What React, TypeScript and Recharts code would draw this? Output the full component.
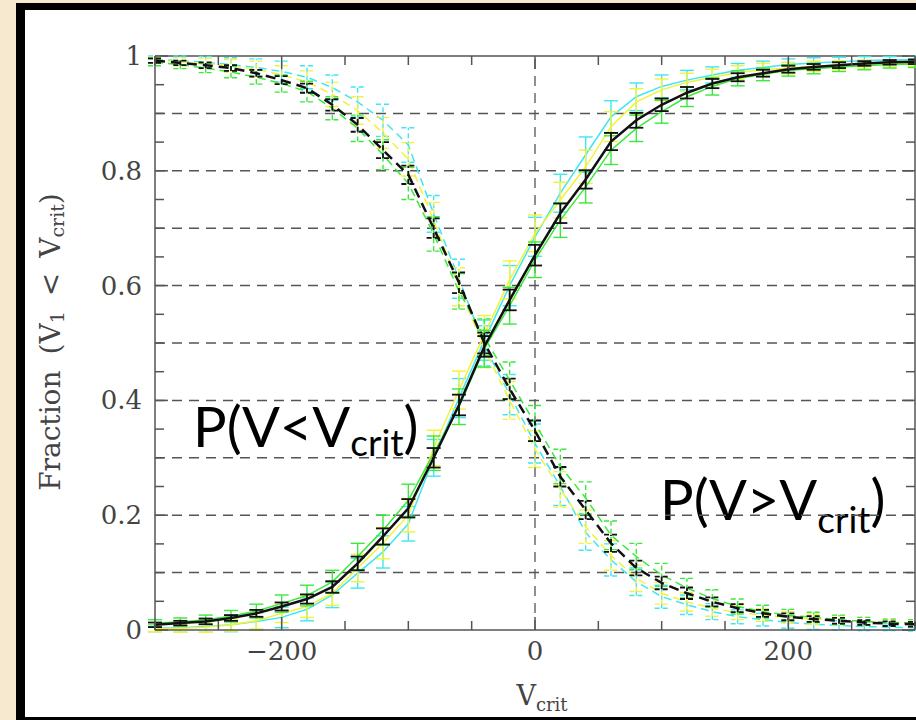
import React from 'react';
import { LineChart, Line, XAxis, YAxis, ReferenceLine, ErrorBar } from 'recharts';

// V_crit sample points
const vcrit = [-300, -280, -260, -240, -220, -200, -180, -160, -140, -120, -100, -80, -60, -40, -20, 0, 20, 40, 60, 80, 100, 120, 140, 160, 180, 200, 220, 240, 260, 280, 300];

// P(V < Vcrit), solid curves
const riseBlack = [0.009, 0.012, 0.015, 0.021, 0.029, 0.041, 0.054, 0.075, 0.116, 0.163, 0.212, 0.3, 0.392, 0.494, 0.575, 0.653, 0.726, 0.785, 0.851, 0.888, 0.915, 0.936, 0.952, 0.963, 0.97, 0.977, 0.981, 0.984, 0.987, 0.989, 0.99];
const riseCyan = [0.003, 0.004, 0.006, 0.009, 0.015, 0.022, 0.036, 0.061, 0.099, 0.136, 0.185, 0.3, 0.404, 0.505, 0.6, 0.685, 0.761, 0.828, 0.894, 0.929, 0.947, 0.958, 0.967, 0.975, 0.98, 0.985, 0.988, 0.99, 0.992, 0.993, 0.994];
const riseYellow = [0.002, 0.003, 0.005, 0.009, 0.016, 0.029, 0.041, 0.064, 0.108, 0.151, 0.2, 0.317, 0.418, 0.515, 0.61, 0.691, 0.749, 0.807, 0.877, 0.92, 0.941, 0.954, 0.963, 0.971, 0.976, 0.979, 0.982, 0.984, 0.986, 0.987, 0.988];
const riseGreen = [0.012, 0.014, 0.018, 0.024, 0.033, 0.046, 0.06, 0.084, 0.128, 0.174, 0.226, 0.308, 0.389, 0.49, 0.565, 0.645, 0.714, 0.772, 0.836, 0.874, 0.903, 0.929, 0.947, 0.961, 0.968, 0.975, 0.978, 0.981, 0.983, 0.985, 0.986];

// P(V > Vcrit), dashed curves
const fallBlack = [0.992, 0.988, 0.984, 0.979, 0.97, 0.958, 0.944, 0.915, 0.88, 0.836, 0.793, 0.7, 0.605, 0.5, 0.42, 0.347, 0.267, 0.209, 0.151, 0.108, 0.082, 0.064, 0.049, 0.038, 0.029, 0.023, 0.019, 0.016, 0.013, 0.011, 0.01];
const fallCyan = [0.994, 0.992, 0.989, 0.985, 0.98, 0.973, 0.963, 0.945, 0.92, 0.888, 0.845, 0.725, 0.612, 0.495, 0.41, 0.325, 0.25, 0.17, 0.122, 0.084, 0.058, 0.044, 0.032, 0.023, 0.018, 0.013, 0.01, 0.008, 0.006, 0.005, 0.004];
const fallYellow = [0.993, 0.99, 0.987, 0.983, 0.977, 0.967, 0.955, 0.933, 0.905, 0.866, 0.82, 0.714, 0.598, 0.49, 0.4, 0.315, 0.245, 0.18, 0.13, 0.09, 0.064, 0.049, 0.038, 0.03, 0.026, 0.022, 0.019, 0.017, 0.015, 0.013, 0.012];
const fallGreen = [0.989, 0.985, 0.979, 0.972, 0.963, 0.952, 0.938, 0.909, 0.874, 0.828, 0.778, 0.69, 0.59, 0.51, 0.435, 0.36, 0.285, 0.23, 0.165, 0.128, 0.096, 0.073, 0.055, 0.041, 0.032, 0.026, 0.022, 0.018, 0.015, 0.013, 0.012];

// error bar half-lengths
const errBlack = [0.004, 0.004, 0.005, 0.005, 0.006, 0.007, 0.008, 0.01, 0.012, 0.014, 0.016, 0.017, 0.018, 0.018, 0.018, 0.018, 0.017, 0.016, 0.015, 0.013, 0.011, 0.01, 0.008, 0.007, 0.006, 0.006, 0.005, 0.005, 0.004, 0.004, 0.004];
const errCyan = [0.006, 0.008, 0.01, 0.012, 0.015, 0.018, 0.02, 0.022, 0.026, 0.028, 0.03, 0.032, 0.034, 0.035, 0.035, 0.034, 0.033, 0.031, 0.028, 0.024, 0.02, 0.017, 0.014, 0.012, 0.011, 0.01, 0.009, 0.008, 0.007, 0.006, 0.006];
const errYellow = [0.005, 0.007, 0.009, 0.011, 0.014, 0.016, 0.019, 0.021, 0.024, 0.027, 0.029, 0.031, 0.033, 0.033, 0.033, 0.032, 0.031, 0.029, 0.026, 0.023, 0.019, 0.016, 0.014, 0.012, 0.011, 0.01, 0.009, 0.008, 0.007, 0.006, 0.006];
const errGreen = [0.006, 0.007, 0.008, 0.01, 0.012, 0.015, 0.018, 0.02, 0.023, 0.026, 0.028, 0.03, 0.031, 0.032, 0.032, 0.031, 0.03, 0.028, 0.025, 0.023, 0.02, 0.017, 0.015, 0.013, 0.011, 0.01, 0.009, 0.008, 0.007, 0.006, 0.006];

const xTicks = [-300, -250, -200, -150, -100, -50, 0, 50, 100, 150, 200, 250, 300];
const xLabels = [-200, 0, 200];
const yTicks = [0, 0.05, 0.1, 0.15, 0.2, 0.25, 0.3, 0.35, 0.4, 0.45, 0.5, 0.55, 0.6, 0.65, 0.7, 0.75, 0.8, 0.85, 0.9, 0.95, 1];
const yLabels = [0, 0.2, 0.4, 0.6, 0.8, 1];
const gridY = [0.1, 0.2, 0.3, 0.4, 0.5, 0.6, 0.7, 0.8, 0.9];

const CYAN = '#3fe6f2';
const YELLOW = '#f2f23a';
const GREEN = '#3be83b';
const BLACK = '#111';
const AXIS = '#555';
const SERIF = '"DejaVu Serif", serif';

const PLOT_TOP = 56;
const PLOT_RIGHT = 915;

const rows = vcrit.map((x, i) => ({
  x,
  rk: riseBlack[i],
  rc: riseCyan[i],
  ry: riseYellow[i],
  rg: riseGreen[i],
  fk: fallBlack[i],
  fc: fallCyan[i],
  fy: fallYellow[i],
  fg: fallGreen[i],
  ek: errBlack[i],
  ec: errCyan[i],
  ey: errYellow[i],
  eg: errGreen[i],
}));

const series = [
  { key: 'rc', err: 'ec', color: CYAN, dashed: false, width: 1.5 },
  { key: 'fc', err: 'ec', color: CYAN, dashed: true, width: 1.5 },
  { key: 'ry', err: 'ey', color: YELLOW, dashed: false, width: 1.5 },
  { key: 'fy', err: 'ey', color: YELLOW, dashed: true, width: 1.5 },
  { key: 'rg', err: 'eg', color: GREEN, dashed: false, width: 1.5 },
  { key: 'fg', err: 'eg', color: GREEN, dashed: true, width: 1.5 },
  { key: 'rk', err: 'ek', color: BLACK, dashed: false, width: 2.5 },
  { key: 'fk', err: 'ek', color: BLACK, dashed: true, width: 2.5 },
];

const has = (list: number[], v: number) => list.some((t) => Math.abs(t - v) < 1e-9);

const BottomTick = (props: any) => {
  const { x, y, payload } = props;
  const major = has(xLabels, payload.value);
  const len = major ? 13 : 9;
  const label = payload.value < 0 ? `\u2212${Math.abs(payload.value)}` : `${payload.value}`;
  return (
    <g>
      <line x1={x} x2={x} y1={y} y2={y - len} stroke={AXIS} strokeWidth={1.5} />
      <line x1={x} x2={x} y1={PLOT_TOP} y2={PLOT_TOP + len} stroke={AXIS} strokeWidth={1.5} />
      {major && (
        <text x={x} y={y + 30} textAnchor="middle" fontFamily={SERIF} fontSize={26} fill="#444">
          {label}
        </text>
      )}
    </g>
  );
};

const LeftTick = (props: any) => {
  const { x, y, payload } = props;
  const major = has(yLabels, payload.value);
  const len = major ? 13 : 9;
  return (
    <g>
      <line x1={x} x2={x + len} y1={y} y2={y} stroke={AXIS} strokeWidth={1.5} />
      <line x1={PLOT_RIGHT - len} x2={PLOT_RIGHT} y1={y} y2={y} stroke={AXIS} strokeWidth={1.5} />
      {major && (
        <text x={x - 13} y={y + 9} textAnchor="end" fontFamily={SERIF} fontSize={26} fill="#444">
          {String(payload.value)}
        </text>
      )}
    </g>
  );
};

export default function App() {
  return (
    <div
      style={{
        position: 'absolute',
        left: 0,
        top: 0,
        width: 916,
        height: 720,
        background: '#f7e9cf',
        overflow: 'hidden',
      }}
    >
      <div
        style={{
          position: 'absolute',
          left: 16,
          top: 3,
          width: 916,
          height: 730,
          background: '#000',
        }}
      />
      <div
        style={{
          position: 'absolute',
          left: 25,
          top: 10,
          width: 900,
          height: 707,
          background: '#fff',
        }}
      />
      <div style={{ position: 'absolute', left: 0, top: 0 }}>
        <LineChart width={916} height={720} data={rows} margin={{ top: 56, right: 1, bottom: 60, left: 95 }}>
          <XAxis
            dataKey="x"
            type="number"
            domain={[-300, 300]}
            ticks={xTicks}
            interval={0}
            allowDataOverflow
            height={30}
            tickSize={0}
            tickMargin={0}
            tickLine={false}
            axisLine={{ stroke: AXIS, strokeWidth: 1.5 }}
            tick={<BottomTick />}
          />
          <YAxis
            type="number"
            domain={[0, 1]}
            ticks={yTicks}
            interval={0}
            allowDataOverflow
            width={60}
            tickSize={0}
            tickMargin={0}
            tickLine={false}
            axisLine={{ stroke: AXIS, strokeWidth: 1.5 }}
            tick={<LeftTick />}
          />
          {gridY.map((v) => (
            <ReferenceLine key={v} y={v} stroke={AXIS} strokeWidth={1.5} strokeDasharray="10 7" />
          ))}
          <ReferenceLine x={0} stroke={AXIS} strokeWidth={1.3} strokeDasharray="10 7" />
          <ReferenceLine y={1} stroke={AXIS} strokeWidth={1.5} />
          <ReferenceLine x={300} stroke={AXIS} strokeWidth={1.5} />
          {series.map((s) => (
            <Line
              key={s.key}
              type="linear"
              dataKey={s.key}
              stroke={s.color}
              strokeWidth={s.width}
              strokeDasharray={s.dashed ? (s.color === BLACK ? '10 6' : '8 5') : undefined}
              dot={false}
              activeDot={false}
              isAnimationActive={false}
            >
              <ErrorBar
                dataKey={s.err}
                direction="y"
                width={7}
                stroke={s.color}
                strokeWidth={s.color === BLACK ? 1.8 : 1.4}
                strokeDasharray={s.dashed ? '5 3' : undefined}
                isAnimationActive={false}
              />
            </Line>
          ))}
          <text
            transform="translate(50, 342) rotate(-90)"
            textAnchor="middle"
            dominantBaseline="central"
            fontFamily={SERIF}
            fontSize={28}
            fill="#444"
          >
            <tspan>Fraction</tspan>
            <tspan dx={16}>(V</tspan>
            <tspan dy={7} fontSize={19}>1</tspan>
            <tspan dy={-7} dx={15}>&lt;</tspan>
            <tspan dx={15}>V</tspan>
            <tspan dy={7} fontSize={19}>crit</tspan>
            <tspan dy={-7}>)</tspan>
          </text>
          <text x={542} y={705} textAnchor="middle" fontFamily={SERIF} fontSize={27} fill="#444">
            <tspan>V</tspan>
            <tspan dy={6} fontSize={18}>crit</tspan>
          </text>
          <text x={193} y={447} fontFamily="Lato, sans-serif" fontSize={56} fill="#000">
            <tspan>P(V&lt;V</tspan>
            <tspan dy={9} fontSize={37}>crit</tspan>
            <tspan dy={-9}>)</tspan>
          </text>
          <text x={660} y={520} fontFamily="Lato, sans-serif" fontSize={56} fill="#000">
            <tspan>P(V&gt;V</tspan>
            <tspan dy={13} fontSize={37}>crit</tspan>
            <tspan dy={-13}>)</tspan>
          </text>
        </LineChart>
      </div>
    </div>
  );
}
